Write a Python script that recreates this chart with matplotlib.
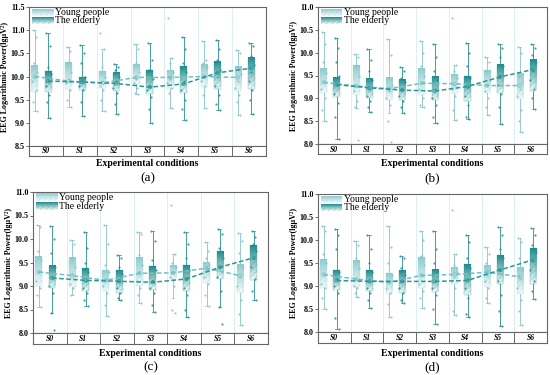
import numpy as np
import matplotlib
matplotlib.use("Agg")
import matplotlib.pyplot as plt
from matplotlib.colors import LinearSegmentedColormap
from matplotlib.patches import Rectangle

plt.rcParams['font.family'] = ['Liberation Serif', 'DejaVu Serif']
plt.rcParams['hatch.linewidth'] = 0.3

conditions = ['S0', 'S1', 'S2', 'S3', 'S4', 'S5', 'S6']
groups = ['Young people', 'The elderly']

# panel (a)
a_q3 = [[10.23, 10.31, 10.12, 10.25, 10.12, 10.26, 10.20], [10.11, 9.99, 10.07, 10.13, 10.22, 10.32, 10.40]]
a_q1 = [[9.66, 9.73, 9.76, 9.83, 9.73, 9.78, 9.68], [9.66, 9.71, 9.68, 9.63, 9.64, 9.73, 9.73]]
a_hi = [[11.0, 10.63, 10.6, 10.7, 10.4, 10.76, 10.58], [10.93, 10.67, 10.27, 10.72, 10.85, 10.78, 10.72]]
a_lo = [[9.25, 9.34, 9.25, 9.63, 9.32, 9.32, 9.17], [9.10, 9.14, 9.20, 9.00, 9.07, 9.27, 9.20]]
a_mean = [[10.00, 9.90, 9.86, 9.98, 9.98, 10.00, 9.98], [9.90, 9.88, 9.85, 9.77, 9.84, 10.08, 10.18]]
a_pts = [
    [[11.0, 10.85, 10.3, 10.1, 10.0, 9.9, 9.7, 9.45, 9.25],
     [10.63, 10.55, 10.3, 10.1, 9.95, 9.85, 9.7, 9.5, 9.34],
     [10.93, 10.6, 10.2, 10.0, 9.9, 9.8, 9.7, 9.5, 9.25],
     [10.7, 10.6, 10.3, 10.1, 9.95, 9.85, 9.75, 9.65, 9.63],
     [11.26, 10.4, 10.3, 10.1, 9.95, 9.85, 9.75, 9.65, 9.32],
     [10.76, 10.35, 10.3, 10.2, 10.0, 9.9, 9.8, 9.6, 9.32],
     [10.58, 10.5, 10.2, 10.05, 9.9, 9.75, 9.6, 9.45, 9.17]],
    [[10.93, 10.65, 10.2, 10.05, 9.9, 9.8, 9.6, 9.45, 9.1],
     [10.67, 10.5, 10.3, 10.0, 9.9, 9.8, 9.7, 9.45, 9.14],
     [10.27, 10.2, 10.15, 10.0, 9.9, 9.75, 9.65, 9.4, 9.2],
     [10.72, 10.35, 10.15, 9.95, 9.8, 9.7, 9.55, 9.3, 9.0],
     [10.85, 10.6, 10.3, 10.1, 9.9, 9.7, 9.5, 9.3, 9.07],
     [10.78, 10.6, 10.35, 10.15, 10.0, 9.8, 9.6, 9.4, 9.27],
     [10.72, 10.65, 10.45, 10.25, 10.1, 9.9, 9.7, 9.5, 9.2]]]

# panel (b)
b_q3 = [[9.64, 9.73, 9.45, 9.64, 9.52, 9.62, 9.53], [9.45, 9.42, 9.41, 9.47, 9.49, 9.73, 9.83]]
b_q1 = [[9.11, 9.08, 8.96, 9.07, 9.11, 9.12, 8.98], [9.02, 9.00, 8.96, 8.96, 8.95, 9.11, 9.15]]
b_hi = [[10.45, 9.97, 10.31, 10.25, 9.72, 9.90, 10.13], [10.33, 10.09, 9.69, 10.18, 10.21, 10.20, 10.20]]
b_lo = [[8.50, 8.78, 8.67, 8.82, 8.52, 8.63, 8.27], [8.10, 8.71, 8.68, 8.45, 8.54, 8.44, 8.77]]
b_mean = [[9.35, 9.27, 9.21, 9.33, 9.32, 9.28, 9.28], [9.30, 9.23, 9.18, 9.16, 9.26, 9.47, 9.63]]
b_pts = [
    [[10.45, 10.2, 9.8, 9.55, 9.35, 9.2, 9.0, 8.75, 8.5],
     [9.97, 9.9, 9.7, 9.5, 9.3, 9.15, 8.95, 8.8, 8.08],
     [10.31, 9.95, 9.45, 9.3, 9.15, 9.0, 8.85, 8.5, 8.05],
     [10.25, 10.0, 9.7, 9.5, 9.35, 9.2, 9.0, 8.85, 8.82],
     [10.77, 9.72, 9.6, 9.45, 9.3, 9.2, 9.05, 8.75, 8.52],
     [9.9, 9.8, 9.6, 9.4, 9.3, 9.15, 9.0, 8.8, 8.63],
     [10.13, 10.0, 9.5, 9.35, 9.2, 9.05, 8.75, 8.5, 8.27]],
    [[10.33, 10.1, 9.8, 9.5, 9.3, 9.1, 8.9, 8.6, 8.1],
     [10.09, 9.85, 9.6, 9.4, 9.2, 9.05, 8.95, 8.8, 8.71],
     [9.69, 9.6, 9.45, 9.35, 9.2, 9.05, 8.95, 8.8, 8.68],
     [10.18, 9.9, 9.6, 9.4, 9.2, 9.0, 8.85, 8.6, 8.45],
     [10.21, 10.0, 9.7, 9.45, 9.25, 9.05, 8.85, 8.6, 8.54],
     [10.2, 10.1, 9.9, 9.7, 9.5, 9.3, 9.1, 8.8, 8.44],
     [10.2, 10.1, 9.95, 9.8, 9.6, 9.4, 9.2, 9.0, 8.77]]]

# panel (c)
c_q3 = [[9.62, 9.60, 9.33, 9.60, 9.43, 9.50, 9.46], [9.43, 9.38, 9.33, 9.43, 9.45, 9.74, 9.85]]
c_q1 = [[9.00, 8.97, 8.90, 9.00, 9.15, 9.07, 8.85], [8.95, 8.90, 8.85, 8.92, 8.90, 9.15, 9.12]]
c_hi = [[10.30, 9.98, 10.30, 10.15, 9.68, 9.93, 10.12], [10.28, 10.15, 9.66, 10.17, 10.15, 10.22, 10.17]]
c_lo = [[8.55, 8.80, 8.37, 8.63, 8.75, 8.57, 8.17], [8.42, 8.58, 8.70, 8.45, 8.33, 8.55, 8.70]]
c_mean = [[9.30, 9.22, 9.12, 9.27, 9.28, 9.38, 9.22], [9.17, 9.12, 9.10, 9.08, 9.15, 9.40, 9.60]]
c_pts = [
    [[10.3, 10.25, 9.75, 9.55, 9.3, 9.1, 8.95, 8.8, 8.55],
     [9.98, 9.9, 9.6, 9.4, 9.25, 9.05, 8.95, 8.8, 8.0],
     [10.3, 9.9, 9.45, 9.3, 9.15, 9.0, 8.85, 8.6, 8.37],
     [10.15, 10.1, 9.65, 9.45, 9.3, 9.1, 8.95, 8.8, 8.63],
     [10.72, 9.68, 9.5, 9.4, 9.3, 9.2, 9.0, 8.5, 8.42],
     [9.93, 9.75, 9.6, 9.45, 9.35, 9.2, 9.05, 8.8, 8.57],
     [10.12, 9.95, 9.7, 9.4, 9.2, 9.0, 8.7, 8.4, 8.17]],
    [[10.28, 10.0, 9.7, 9.4, 9.2, 9.0, 8.85, 8.42, 8.07],
     [10.15, 9.8, 9.5, 9.3, 9.1, 8.95, 8.85, 8.7, 8.58],
     [9.66, 9.6, 9.4, 9.25, 9.1, 8.95, 8.85, 8.75, 8.7],
     [10.17, 9.95, 9.55, 9.35, 9.1, 8.95, 8.85, 8.6, 8.45],
     [10.15, 9.9, 9.6, 9.35, 9.15, 8.95, 8.8, 8.5, 8.33],
     [10.22, 10.1, 9.8, 9.6, 9.4, 9.2, 8.9, 8.55, 8.2],
     [10.17, 10.05, 9.9, 9.75, 9.6, 9.4, 9.15, 8.9, 8.7]]]

# panel (d)
d_q3 = [[9.58, 9.55, 9.28, 9.62, 9.40, 9.43, 9.40], [9.35, 9.35, 9.33, 9.35, 9.47, 9.68, 9.83]]
d_q1 = [[8.95, 8.97, 8.83, 8.95, 9.05, 8.97, 8.83], [8.92, 8.90, 8.85, 8.87, 8.80, 9.05, 9.05]]
d_hi = [[10.30, 9.98, 10.30, 10.20, 9.70, 9.85, 10.05], [10.25, 10.10, 9.66, 10.20, 10.10, 10.28, 10.27]]
d_lo = [[8.50, 8.77, 8.32, 8.53, 8.38, 8.63, 8.15], [8.07, 8.53, 8.63, 8.18, 8.33, 8.13, 8.72]]
d_mean = [[9.25, 9.15, 9.08, 9.23, 9.25, 9.30, 9.20], [9.12, 9.10, 9.10, 9.10, 9.12, 9.35, 9.57]]
d_pts = [
    [[10.3, 10.2, 9.7, 9.5, 9.25, 9.05, 8.95, 8.75, 8.5],
     [9.98, 9.9, 9.6, 9.4, 9.15, 9.0, 8.95, 8.85, 8.77],
     [10.3, 9.85, 9.5, 9.25, 9.1, 8.95, 8.85, 8.6, 8.32],
     [10.2, 10.0, 9.65, 9.45, 9.25, 9.05, 8.9, 8.75, 8.53],
     [10.66, 9.7, 9.45, 9.3, 9.2, 9.1, 8.95, 8.45, 8.38],
     [9.85, 9.7, 9.5, 9.35, 9.25, 9.1, 8.95, 8.75, 8.63],
     [10.05, 9.95, 9.6, 9.35, 9.15, 8.95, 8.7, 8.45, 8.15]],
    [[10.25, 10.1, 9.8, 9.3, 9.15, 9.0, 8.85, 8.3, 8.07],
     [10.1, 9.8, 9.5, 9.3, 9.1, 8.95, 8.85, 8.7, 8.53],
     [9.66, 9.6, 9.4, 9.25, 9.1, 8.95, 8.85, 8.7, 8.63],
     [10.2, 9.8, 9.5, 9.3, 9.1, 8.95, 8.8, 8.5, 8.18],
     [10.1, 9.95, 9.6, 9.4, 9.15, 8.95, 8.75, 8.4, 8.33],
     [10.28, 10.1, 9.8, 9.6, 9.35, 9.1, 8.8, 8.45, 8.13],
     [10.27, 10.1, 9.9, 9.75, 9.55, 9.35, 9.1, 8.9, 8.72]]]

box_col = ['#8fcbcf', '#1f8c8c']
pt_col = ['#86c4c8', '#23908f']
line_col = ['#74bfc3', '#2a9797']
offs = [0.17, 0.57]
bw = 0.2
jit = [-0.06, 0.05, -0.02, 0.08, 0.0, -0.08, 0.03, -0.04, 0.06]


def draw_panel(ax, band, q3, q1, hi, lo, mean, pts, ylim, letter, lab_y, let_y):
    for g in range(2):
        cmap = LinearSegmentedColormap.from_list('g%d' % g, ['#f6fbfb', box_col[g]])
        grad = np.linspace(0, 1, 60).reshape(-1, 1)
        xs = []
        for i in range(7):
            x = i + offs[g]
            xs.append(x)
            ax.plot([x, x], [lo[g][i], hi[g][i]], color=pt_col[g], lw=0.6, zorder=2)
            ax.plot([x - 0.04, x + 0.04], [hi[g][i]] * 2, color=pt_col[g], lw=0.5, zorder=2)
            ax.plot([x - 0.04, x + 0.04], [lo[g][i]] * 2, color=pt_col[g], lw=0.5, zorder=2)
            ax.imshow(grad, cmap=cmap, origin='lower', aspect='auto', zorder=3,
                      extent=[x - bw / 2, x + bw / 2, q1[g][i], q3[g][i]])
            h = q3[g][i] - q1[g][i]
            ax.add_patch(Rectangle((x - bw / 2, q1[g][i]), bw, h * 0.55, fill=False,
                                   hatch='//////', edgecolor=box_col[g], lw=0, alpha=0.5, zorder=4))
            ax.add_patch(Rectangle((x - bw / 2, q1[g][i]), bw, h, fill=False,
                                   edgecolor=box_col[g], lw=0.3, alpha=0.6, zorder=4))
            p = pts[g][i]
            ax.scatter([x + jit[k % len(jit)] for k in range(len(p))], p, s=2.5,
                       color=pt_col[g], alpha=0.85, lw=0, zorder=5)
        ax.plot(xs, mean[g], ls=(0, (3, 1.6)), color=line_col[g], lw=1.1, zorder=6)
        ax.scatter(xs, mean[g], s=6, facecolor='none', edgecolor=line_col[g], lw=0.5, zorder=6)
    for i in range(1, 7):
        ax.axvline(i, color='#d6eef0', lw=0.6, zorder=1)
    ax.set_xlim(0, 7)
    ax.set_ylim(*ylim)
    ax.set_yticks(np.arange(ylim[0], ylim[1] + 0.01, 0.5))
    ax.set_yticklabels(['%.1f' % v for v in np.arange(ylim[0], ylim[1] + 0.01, 0.5)],
                       fontsize=5.8, fontweight='bold')
    ax.set_xticks([])
    ax.tick_params(axis='y', direction='out', length=2, width=0.6, pad=1, color='#555555')
    ax.set_ylabel('EEG Logarithmic Power(lgμV²)', fontsize=5.8, fontweight='bold', labelpad=1)
    for s in ax.spines.values():
        s.set_color('#666666')
        s.set_linewidth(0.8)

    # legend drawn as gradient patches
    span = ylim[1] - ylim[0]
    for g in range(2):
        cmap = LinearSegmentedColormap.from_list('l%d' % g, ['#f6fbfb', box_col[g]])
        y1 = ylim[1] - span * (0.015 + 0.06 * g)
        y0 = y1 - span * 0.05
        ax.imshow(np.linspace(0, 1, 30).reshape(-1, 1), cmap=cmap, origin='lower', aspect='auto',
                  extent=[0.08, 0.72, y0, y1], zorder=7)
        ax.add_patch(Rectangle((0.08, y0), 0.64, (y1 - y0) * 0.5, fill=False, hatch='//////',
                               edgecolor=box_col[g], lw=0, alpha=0.5, zorder=8))
        ax.text(0.78, (y0 + y1) / 2, groups[g], fontsize=7, va='center', ha='left', zorder=8)
    ax.set_xlim(0, 7)
    ax.set_ylim(*ylim)

    band.set_xlim(0, 7)
    band.set_ylim(0, 1)
    band.set_xticks([])
    band.set_yticks([])
    for i in range(1, 7):
        band.axvline(i, color='#666666', lw=0.7)
    for i, c in enumerate(conditions):
        band.text(i + 0.5, 0.45, c, ha='center', va='center', fontsize=5.5,
                  fontweight='bold', style='italic')
    for s in band.spines.values():
        s.set_color('#666666')
        s.set_linewidth(0.8)
    pos = ax.get_position()
    cx = pos.x0 + pos.width / 2
    fig.text(cx, lab_y, 'Experimental conditions', ha='center', va='center',
             fontsize=7, fontweight='bold')
    fig.text(cx, let_y, '(%s)' % letter, ha='center', va='center', fontsize=9.5)


fig = plt.figure(figsize=(5.5, 3.75), dpi=100)
W, H = 550.0, 375.0


def make_axes(left, right, top, mid, bottom):
    ax = fig.add_axes([left / W, 1 - mid / H, (right - left) / W, (mid - top) / H])
    band = fig.add_axes([left / W, 1 - bottom / H, (right - left) / W, (bottom - mid) / H])
    return ax, band


ax, band = make_axes(29, 266, 7, 146, 156)
draw_panel(ax, band, a_q3, a_q1, a_hi, a_lo, a_mean, a_pts, (8.5, 11.5), 'a', 1 - 164 / H, 1 - 178 / H)
ax, band = make_axes(318, 547, 7, 144, 154)
draw_panel(ax, band, b_q3, b_q1, b_hi, b_lo, b_mean, b_pts, (8.0, 11.0), 'b', 1 - 164 / H, 1 - 178 / H)
ax, band = make_axes(33, 268, 192, 333, 344)
draw_panel(ax, band, c_q3, c_q1, c_hi, c_lo, c_mean, c_pts, (8.0, 11.0), 'c', 1 - 353 / H, 1 - 367 / H)
ax, band = make_axes(318, 547, 194, 332, 343)
draw_panel(ax, band, d_q3, d_q1, d_hi, d_lo, d_mean, d_pts, (8.0, 11.0), 'd', 1 - 353 / H, 1 - 367 / H)

fig.savefig('out.png', dpi=100)
